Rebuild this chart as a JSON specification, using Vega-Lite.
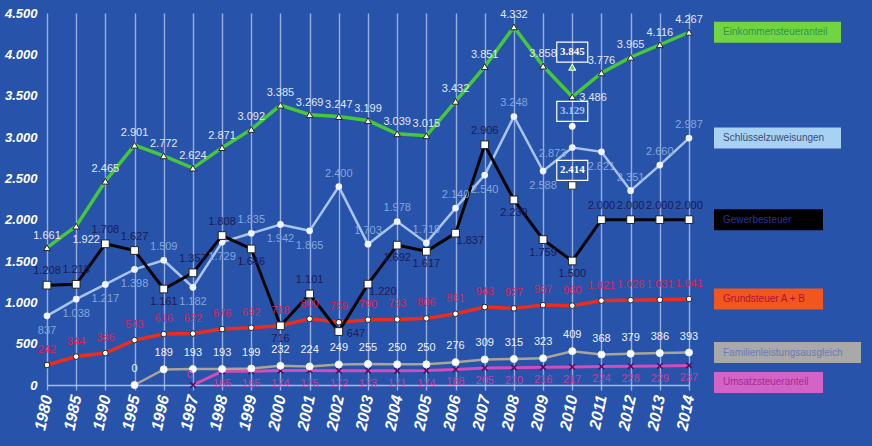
{
  "$schema": "https://vega.github.io/schema/vega-lite/v6.json",
  "width": 642,
  "height": 372,
  "autosize": {"type": "none"},
  "padding": {"left": 47, "top": 13, "right": 183, "bottom": 61},
  "background": "#2753aa",
  "config": {
    "locale": {"number": {"decimal": ",", "thousands": ".", "grouping": [3], "currency": ["", " €"]}},
    "view": {"stroke": null},
    "font": "Liberation Sans",
    "axis": {"labelFont": "Liberation Sans", "labelColor": "#ffffff", "labelFontWeight": "bold", "labelFontStyle": "italic", "title": null}
  },
  "datasets": {
    "wide": [
      {"year": "1980", "Einkommensteueranteil": 1661, "Schlüsselzuweisungen": 837, "Gewerbesteuer": 1208, "Grundsteuer A + B": 242},
      {"year": "1985", "Einkommensteueranteil": 1922, "Schlüsselzuweisungen": 1038, "Gewerbesteuer": 1218, "Grundsteuer A + B": 344},
      {"year": "1990", "Einkommensteueranteil": 2465, "Schlüsselzuweisungen": 1217, "Gewerbesteuer": 1708, "Grundsteuer A + B": 386},
      {"year": "1995", "Einkommensteueranteil": 2901, "Schlüsselzuweisungen": 1398, "Gewerbesteuer": 1627, "Grundsteuer A + B": 543, "Familienleistungsausgleich": 0},
      {"year": "1996", "Einkommensteueranteil": 2772, "Schlüsselzuweisungen": 1509, "Gewerbesteuer": 1161, "Grundsteuer A + B": 616, "Familienleistungsausgleich": 189},
      {"year": "1997", "Einkommensteueranteil": 2624, "Schlüsselzuweisungen": 1182, "Gewerbesteuer": 1357, "Grundsteuer A + B": 622, "Familienleistungsausgleich": 193, "Umsatzsteueranteil": 0},
      {"year": "1998", "Einkommensteueranteil": 2871, "Schlüsselzuweisungen": 1729, "Gewerbesteuer": 1808, "Grundsteuer A + B": 676, "Familienleistungsausgleich": 193, "Umsatzsteueranteil": 165},
      {"year": "1999", "Einkommensteueranteil": 3092, "Schlüsselzuweisungen": 1835, "Gewerbesteuer": 1646, "Grundsteuer A + B": 692, "Familienleistungsausgleich": 199, "Umsatzsteueranteil": 165},
      {"year": "2000", "Einkommensteueranteil": 3385, "Schlüsselzuweisungen": 1942, "Gewerbesteuer": 716, "Grundsteuer A + B": 718, "Familienleistungsausgleich": 232, "Umsatzsteueranteil": 174},
      {"year": "2001", "Einkommensteueranteil": 3269, "Schlüsselzuweisungen": 1865, "Gewerbesteuer": 1101, "Grundsteuer A + B": 800, "Familienleistungsausgleich": 224, "Umsatzsteueranteil": 175},
      {"year": "2002", "Einkommensteueranteil": 3247, "Schlüsselzuweisungen": 2400, "Gewerbesteuer": 647, "Grundsteuer A + B": 759, "Familienleistungsausgleich": 249, "Umsatzsteueranteil": 172},
      {"year": "2003", "Einkommensteueranteil": 3199, "Schlüsselzuweisungen": 1703, "Gewerbesteuer": 1220, "Grundsteuer A + B": 790, "Familienleistungsausgleich": 255, "Umsatzsteueranteil": 173},
      {"year": "2004", "Einkommensteueranteil": 3039, "Schlüsselzuweisungen": 1978, "Gewerbesteuer": 1692, "Grundsteuer A + B": 793, "Familienleistungsausgleich": 250, "Umsatzsteueranteil": 171},
      {"year": "2005", "Einkommensteueranteil": 3015, "Schlüsselzuweisungen": 1719, "Gewerbesteuer": 1617, "Grundsteuer A + B": 806, "Familienleistungsausgleich": 250, "Umsatzsteueranteil": 174},
      {"year": "2006", "Einkommensteueranteil": 3432, "Schlüsselzuweisungen": 2140, "Gewerbesteuer": 1837, "Grundsteuer A + B": 861, "Familienleistungsausgleich": 276, "Umsatzsteueranteil": 188},
      {"year": "2007", "Einkommensteueranteil": 3851, "Schlüsselzuweisungen": 2540, "Gewerbesteuer": 2906, "Grundsteuer A + B": 943, "Familienleistungsausgleich": 309, "Umsatzsteueranteil": 205},
      {"year": "2008", "Einkommensteueranteil": 4332, "Schlüsselzuweisungen": 3248, "Gewerbesteuer": 2239, "Grundsteuer A + B": 927, "Familienleistungsausgleich": 315, "Umsatzsteueranteil": 210},
      {"year": "2009", "Einkommensteueranteil": 3858, "Schlüsselzuweisungen": 2588, "Gewerbesteuer": 1759, "Grundsteuer A + B": 967, "Familienleistungsausgleich": 323, "Umsatzsteueranteil": 216},
      {"year": "2010", "Einkommensteueranteil": 3486, "Schlüsselzuweisungen": 2873, "Gewerbesteuer": 1500, "Grundsteuer A + B": 960, "Familienleistungsausgleich": 409, "Umsatzsteueranteil": 217},
      {"year": "2011", "Einkommensteueranteil": 3776, "Schlüsselzuweisungen": 2821, "Gewerbesteuer": 2000, "Grundsteuer A + B": 1021, "Familienleistungsausgleich": 368, "Umsatzsteueranteil": 224},
      {"year": "2012", "Einkommensteueranteil": 3965, "Schlüsselzuweisungen": 2351, "Gewerbesteuer": 2000, "Grundsteuer A + B": 1026, "Familienleistungsausgleich": 379, "Umsatzsteueranteil": 228},
      {"year": "2013", "Einkommensteueranteil": 4116, "Schlüsselzuweisungen": 2660, "Gewerbesteuer": 2000, "Grundsteuer A + B": 1031, "Familienleistungsausgleich": 386, "Umsatzsteueranteil": 229},
      {"year": "2014", "Einkommensteueranteil": 4267, "Schlüsselzuweisungen": 2987, "Gewerbesteuer": 2000, "Grundsteuer A + B": 1041, "Familienleistungsausgleich": 393, "Umsatzsteueranteil": 237}
    ],
    "extra": [
      {"year": "2010", "series": "Einkommensteueranteil", "value": 3845},
      {"year": "2010", "series": "Schlüsselzuweisungen", "value": 3129},
      {"year": "2010", "series": "Gewerbesteuer", "value": 2414}
    ]
  },
  "encoding": {
    "x": {
      "field": "year", "type": "ordinal",
      "scale": {"type": "point", "padding": 0},
      "axis": {
        "grid": true, "gridColor": "#c6d4f4", "gridOpacity": 0.7, "gridWidth": 1.4,
        "domainColor": "#c6d4f4", "domainWidth": 1.6, "domainOpacity": 0.8,
        "tickColor": "#c6d4f4", "tickSize": 5, "tickWidth": 1.4, "tickOpacity": 0.7,
        "labelFontSize": 16, "labelAngle": -78, "labelPadding": 5
      }
    },
    "y": {
      "field": "value", "type": "quantitative",
      "scale": {"domain": [0, 4500], "nice": false},
      "axis": {
        "grid": false, "domain": false, "ticks": false,
        "values": [0, 500, 1000, 1500, 2000, 2500, 3000, 3500, 4000, 4500],
        "format": ",d", "labelFontSize": 13, "labelPadding": 10
      }
    }
  },
  "layer": [
    {
      "data": {"name": "wide"},
      "transform": [
        {"fold": ["Einkommensteueranteil", "Schlüsselzuweisungen", "Gewerbesteuer", "Grundsteuer A + B", "Familienleistungsausgleich", "Umsatzsteueranteil"], "as": ["series", "value"]},
        {"filter": "isValid(datum.value)"}
      ],
      "layer": [
        {
          "transform": [{"filter": "datum.series == 'Umsatzsteueranteil'"}],
          "mark": {"type": "line", "color": "#d24cbc", "strokeWidth": 3,
            "point": {"shape": "M-1,-1L1,1M-1,1L1,-1", "filled": false, "stroke": "#4a1060", "strokeWidth": 1.5, "size": 30, "opacity": 1}},
          "encoding": {}
        },
        {
          "transform": [{"filter": "datum.series == 'Familienleistungsausgleich'"}],
          "mark": {"type": "line", "color": "#aaa594", "strokeWidth": 2.5,
            "point": {"shape": "circle", "filled": true, "fill": "#ffffff", "stroke": "#e8eeff", "strokeWidth": 1, "size": 50, "opacity": 1}},
          "encoding": {}
        },
        {
          "transform": [{"filter": "datum.series == 'Grundsteuer A + B'"}],
          "mark": {"type": "line", "color": "#ec2c1c", "strokeWidth": 3.5,
            "point": {"shape": "circle", "filled": true, "fill": "#ffffff", "stroke": "#222222", "strokeWidth": 1, "size": 32, "opacity": 1}},
          "encoding": {}
        },
        {
          "transform": [{"filter": "datum.series == 'Schlüsselzuweisungen'"}],
          "mark": {"type": "line", "color": "#a9c4ee", "strokeWidth": 2.5,
            "point": {"shape": "circle", "filled": true, "fill": "#eef3ff", "size": 45, "opacity": 1}},
          "encoding": {}
        },
        {
          "transform": [{"filter": "datum.series == 'Gewerbesteuer'"}],
          "mark": {"type": "line", "color": "#050505", "strokeWidth": 3,
            "point": {"shape": "square", "filled": true, "fill": "#ffffff", "stroke": "#222222", "strokeWidth": 1, "size": 60, "opacity": 1}},
          "encoding": {}
        },
        {
          "transform": [{"filter": "datum.series == 'Einkommensteueranteil'"}],
          "mark": {"type": "line", "color": "#45c83a", "strokeWidth": 3.5,
            "point": {"shape": "triangle-up", "filled": true, "fill": "#ffffff", "stroke": "#222222", "strokeWidth": 1, "size": 45, "opacity": 1}},
          "encoding": {}
        },

        {
          "transform": [{"filter": "datum.series == 'Einkommensteueranteil' && indexof(['1985', '2010'], datum.year) < 0"}],
          "mark": {"type": "text", "fontSize": 11, "color": "#e2e7f8", "dy": -12},
          "encoding": {"text": {"field": "value", "type": "quantitative", "format": ",d"}}
        },
        {
          "transform": [{"filter": "datum.series == 'Einkommensteueranteil' && datum.year == '1985'"}],
          "mark": {"type": "text", "fontSize": 11, "color": "#e2e7f8", "dy": 14, "dx": 10},
          "encoding": {"text": {"field": "value", "type": "quantitative", "format": ",d"}}
        },
        {
          "transform": [{"filter": "datum.series == 'Einkommensteueranteil' && datum.year == '2010'"}],
          "mark": {"type": "text", "fontSize": 11, "color": "#e2e7f8", "align": "left", "dx": 7, "dy": 1},
          "encoding": {"text": {"field": "value", "type": "quantitative", "format": ",d"}}
        },
        {
          "transform": [{"filter": "datum.series == 'Schlüsselzuweisungen' && indexof(['1980', '1985', '1990', '1995', '1997', '1998', '2000', '2001', '2007', '2009', '2011'], datum.year) >= 0"}],
          "mark": {"type": "text", "fontSize": 11, "color": "#86a6dc", "dy": 15},
          "encoding": {"text": {"field": "value", "type": "quantitative", "format": ",d"}}
        },
        {
          "transform": [{"filter": "datum.series == 'Schlüsselzuweisungen' && datum.year == '2010'"}],
          "mark": {"type": "text", "fontSize": 11, "color": "#86a6dc", "align": "right", "dx": -6, "dy": 7},
          "encoding": {"text": {"field": "value", "type": "quantitative", "format": ",d"}}
        },
        {
          "transform": [{"filter": "datum.series == 'Schlüsselzuweisungen' && indexof(['1980', '1985', '1990', '1995', '1997', '1998', '2000', '2001', '2007', '2009', '2010', '2011'], datum.year) < 0"}],
          "mark": {"type": "text", "fontSize": 11, "color": "#86a6dc", "dy": -13},
          "encoding": {"text": {"field": "value", "type": "quantitative", "format": ",d"}}
        },
        {
          "transform": [{"filter": "datum.series == 'Gewerbesteuer' && indexof(['1996', '1999', '2000', '2004', '2005', '2008', '2009', '2010'], datum.year) >= 0"}],
          "mark": {"type": "text", "fontSize": 11, "color": "#1d1a55", "dy": 13},
          "encoding": {"text": {"field": "value", "type": "quantitative", "format": ",d"}}
        },
        {
          "transform": [{"filter": "datum.series == 'Gewerbesteuer' && datum.year == '2002'"}],
          "mark": {"type": "text", "fontSize": 11, "color": "#1d1a55", "align": "left", "dx": 8, "dy": 2},
          "encoding": {"text": {"field": "value", "type": "quantitative", "format": ",d"}}
        },
        {
          "transform": [{"filter": "datum.series == 'Gewerbesteuer' && indexof(['2003', '2006'], datum.year) >= 0"}],
          "mark": {"type": "text", "fontSize": 11, "color": "#1d1a55", "align": "left", "dx": 1, "dy": 8},
          "encoding": {"text": {"field": "value", "type": "quantitative", "format": ",d"}}
        },
        {
          "transform": [{"filter": "datum.series == 'Gewerbesteuer' && indexof(['1996', '1999', '2000', '2002', '2003', '2004', '2005', '2006', '2008', '2009', '2010'], datum.year) < 0"}],
          "mark": {"type": "text", "fontSize": 11, "color": "#1d1a55", "dy": -14},
          "encoding": {"text": {"field": "value", "type": "quantitative", "format": ",d"}}
        },
        {
          "transform": [{"filter": "datum.series == 'Grundsteuer A + B'"}],
          "mark": {"type": "text", "fontSize": 11, "color": "#dc2458", "dy": -15},
          "encoding": {"text": {"field": "value", "type": "quantitative", "format": ",d"}}
        },
        {
          "transform": [{"filter": "datum.series == 'Familienleistungsausgleich'"}],
          "mark": {"type": "text", "fontSize": 11, "color": "#eef1fb", "dy": -16},
          "encoding": {"text": {"field": "value", "type": "quantitative", "format": ",d"}}
        },
        {
          "transform": [{"filter": "datum.series == 'Umsatzsteueranteil' && datum.year != '1997'"}],
          "mark": {"type": "text", "fontSize": 11, "color": "#c2409f", "dy": 13},
          "encoding": {"text": {"field": "value", "type": "quantitative", "format": ",d"}}
        },
        {
          "transform": [{"filter": "datum.series == 'Umsatzsteueranteil' && datum.year == '1997'"}],
          "mark": {"type": "text", "fontSize": 11, "color": "#c2409f", "dy": -10, "dx": -3},
          "encoding": {"text": {"field": "value", "type": "quantitative", "format": ",d"}}
        },

        {
          "transform": [{"filter": "datum.year == '2014'"}],
          "mark": {"type": "point", "filled": true, "size": 10000, "opacity": 1},
          "encoding": {
            "shape": {
              "field": "series", "type": "nominal", "legend": null,
              "scale": {
                "domain": ["Einkommensteueranteil", "Schlüsselzuweisungen", "Gewerbesteuer", "Grundsteuer A + B", "Familienleistungsausgleich", "Umsatzsteueranteil"],
                "range": ["M0.5,-0.21H3.04V0.21H0.5Z", "M0.5,-0.21H3.04V0.21H0.5Z", "M0.5,-0.21H2.68V0.21H0.5Z", "M0.5,-0.21H2.68V0.21H0.5Z", "M0.5,-0.21H3.44V0.21H0.5Z", "M0.5,0.13H2.68V0.55H0.5Z"]
              }
            },
            "color": {
              "field": "series", "type": "nominal", "legend": null,
              "scale": {
                "domain": ["Einkommensteueranteil", "Schlüsselzuweisungen", "Gewerbesteuer", "Grundsteuer A + B", "Familienleistungsausgleich", "Umsatzsteueranteil"],
                "range": ["#72d540", "#a8d2f2", "#000000", "#f2561f", "#a9a9a9", "#d463c8"]
              }
            }
          }
        },
        {
          "transform": [{"filter": "datum.year == '2014' && datum.series != 'Umsatzsteueranteil'"}],
          "mark": {"type": "text", "fontSize": 10, "align": "left", "baseline": "middle", "dx": 34},
          "encoding": {
            "text": {"field": "series", "type": "nominal"},
            "fill": {
              "field": "series", "type": "nominal", "legend": null,
              "scale": {
                "domain": ["Einkommensteueranteil", "Schlüsselzuweisungen", "Gewerbesteuer", "Grundsteuer A + B", "Familienleistungsausgleich", "Umsatzsteueranteil"],
                "range": ["#2b9658", "#3c4c7c", "#2c30a4", "#b0123c", "#6b7bb4", "#a42c95"]
              }
            }
          }
        },
        {
          "transform": [{"filter": "datum.year == '2014' && datum.series == 'Umsatzsteueranteil'"}],
          "mark": {"type": "text", "fontSize": 10, "align": "left", "baseline": "middle", "dx": 34, "dy": 17},
          "encoding": {
            "text": {"field": "series", "type": "nominal"},
            "fill": {
              "field": "series", "type": "nominal", "legend": null,
              "scale": {
                "domain": ["Einkommensteueranteil", "Schlüsselzuweisungen", "Gewerbesteuer", "Grundsteuer A + B", "Familienleistungsausgleich", "Umsatzsteueranteil"],
                "range": ["#2b9658", "#3c4c7c", "#2c30a4", "#b0123c", "#6b7bb4", "#a42c95"]
              }
            }
          }
        }
      ]
    },
    {
      "data": {"name": "extra"},
      "layer": [
        {
          "transform": [{"filter": "datum.series == 'Einkommensteueranteil'"}],
          "mark": {"type": "point", "shape": "triangle-up", "filled": true, "fill": "#6edc50", "stroke": "#ffffff", "strokeWidth": 1, "size": 50, "opacity": 1}
        },
        {
          "transform": [{"filter": "datum.series == 'Schlüsselzuweisungen'"}],
          "mark": {"type": "point", "shape": "circle", "filled": true, "fill": "#ffffff", "size": 45, "opacity": 1}
        },
        {
          "transform": [{"filter": "datum.series == 'Gewerbesteuer'"}],
          "mark": {"type": "point", "shape": "square", "filled": true, "fill": "#ffffff", "stroke": "#333333", "strokeWidth": 1, "size": 55, "opacity": 1}
        },
        {
          "mark": {"type": "point", "shape": "M-1.55,-2.5H1.55V-0.5H-1.55Z", "filled": false, "stroke": "#ffffff", "strokeWidth": 1.2, "size": 400, "opacity": 1}
        },
        {
          "mark": {"type": "text", "font": "Liberation Serif", "fontWeight": "bold", "fontSize": 11, "dy": -15, "baseline": "middle"},
          "encoding": {
            "text": {"field": "value", "type": "quantitative", "format": ",d"},
            "color": {"condition": {"test": "datum.series == 'Schlüsselzuweisungen'", "value": "#a9c2ef"}, "value": "#ffffff"}
          }
        }
      ]
    }
  ]
}
